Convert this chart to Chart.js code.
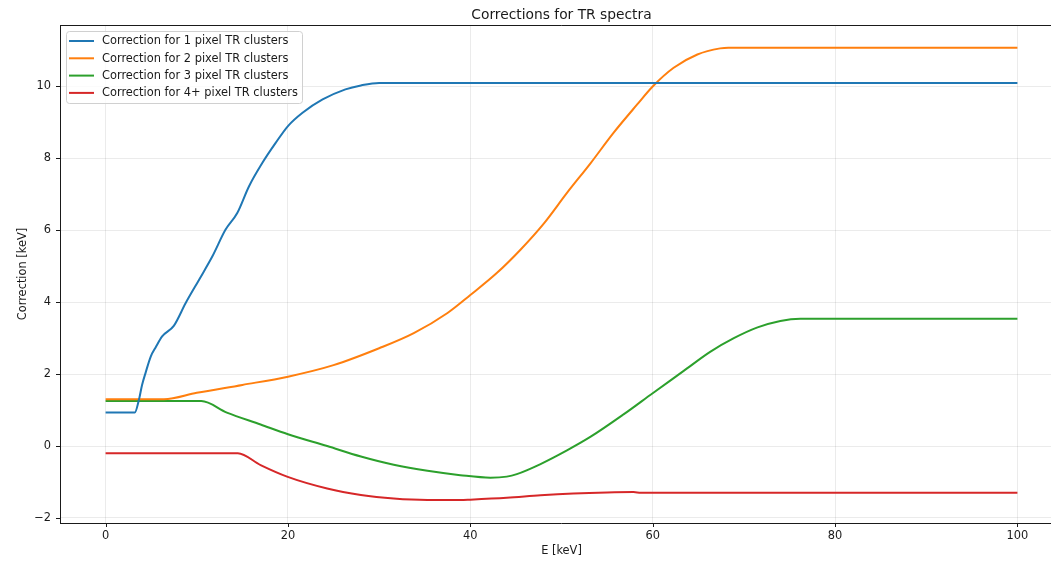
<!DOCTYPE html>
<html>
<head>
<meta charset="utf-8">
<script src="https://cdn.jsdelivr.net/npm/chart.js@4.4.1/dist/chart.umd.min.js"></script>
<style>
  html, body { margin: 0; padding: 0; background: #fff; }
  #wrap { width: 1051px; height: 563px; overflow: hidden; }
  canvas { display: block; }
</style>
</head>
<body>
<div id="wrap"><canvas id="trChart" width="1064" height="563"></canvas></div>
<script>
// E [keV] / correction [keV], one pair of arrays per cluster size
const e1 = [0, 3.2, 3.65, 4.0, 4.4, 4.95, 5.5, 6.2, 7.5, 8.77, 10.24, 11.7, 13.16, 14.44, 15.72, 17.18, 18.65, 20, 21.6, 23.8, 26.3, 28, 30, 100];
const corr1 = [0.93, 0.93, 1.28, 1.7, 2.05, 2.49, 2.75, 3.05, 3.35, 3.97, 4.62, 5.27, 6.02, 6.48, 7.22, 7.87, 8.43, 8.9, 9.27, 9.64, 9.92, 10.03, 10.1, 10.1];

const e2 = [0, 6.4, 10, 15, 20, 25, 30, 33.8, 37.5, 40, 42.9, 45.5, 48.1, 50.6, 53.2, 55.7, 58.3, 60, 62.3, 64.9, 67.4, 68.3, 100];
const corr2 = [1.3, 1.3, 1.48, 1.7, 1.93, 2.25, 2.72, 3.14, 3.7, 4.2, 4.81, 5.46, 6.2, 7.04, 7.87, 8.71, 9.5, 10.0, 10.52, 10.89, 11.06, 11.08, 11.08];

const e3 = [0, 10.5, 13.3, 17, 20, 24.3, 28, 31.6, 35.3, 38.9, 42.2, 44, 45.1, 47.7, 50.6, 53.2, 56.8, 60, 63.4, 66.3, 68.9, 71.5, 74, 76.2, 100];
const corr3 = [1.25, 1.25, 0.93, 0.6, 0.33, 0.0, -0.29, -0.52, -0.69, -0.81, -0.88, -0.85, -0.78, -0.5, -0.12, 0.26, 0.88, 1.47, 2.09, 2.62, 3.0, 3.3, 3.48, 3.54, 3.54];

const e4 = [0, 14.5, 17, 19.9, 24.3, 28, 31.6, 35.3, 38.9, 40, 44, 47.7, 51.3, 55, 57.9, 58.7, 100];
const corr4 = [-0.2, -0.2, -0.53, -0.85, -1.18, -1.36, -1.46, -1.5, -1.5, -1.49, -1.44, -1.37, -1.32, -1.29, -1.28, -1.3, -1.3];

const seriesLabels = [
  'Correction for 1 pixel TR clusters',
  'Correction for 2 pixel TR clusters',
  'Correction for 3 pixel TR clusters',
  'Correction for 4+ pixel TR clusters'
];
const seriesColors = ['#1f77b4', '#ff7f0e', '#2ca02c', '#d62728'];
const chartTitle = 'Corrections for TR spectra';

const xTicks = [0, 20, 40, 60, 80, 100];
const yTicks = [-2, 0, 2, 4, 6, 8, 10];

function toPoints(xs, ys) {
  return xs.map((x, i) => ({ x: x, y: ys[i] }));
}

const allX = [e1, e2, e3, e4];
const allY = [corr1, corr2, corr3, corr4];

const datasets = seriesLabels.map((label, i) => ({
  label: label,
  data: toPoints(allX[i], allY[i]),
  borderColor: seriesColors[i],
  backgroundColor: seriesColors[i],
  borderWidth: 2,
  pointRadius: 0,
  cubicInterpolationMode: 'monotone',
  fill: false
}));

Chart.defaults.font.family = "'DejaVu Sans', sans-serif";
Chart.defaults.color = '#1a1a1a';

// matplotlib-like frame, tick marks, title and legend box
const mplFrame = {
  id: 'mplFrame',
  afterDraw(chart) {
    const ctx = chart.ctx;
    const a = chart.chartArea;
    const xs = chart.scales.x, ys = chart.scales.y;
    ctx.save();
    ctx.strokeStyle = '#1a1a1a';
    ctx.lineWidth = 1;
    ctx.beginPath();
    ctx.moveTo(a.left + 0.5, a.top + 0.5);
    ctx.lineTo(a.right, a.top + 0.5);
    ctx.moveTo(a.left + 0.5, a.top);
    ctx.lineTo(a.left + 0.5, a.bottom);
    ctx.moveTo(a.left, a.bottom + 0.5);
    ctx.lineTo(a.right, a.bottom + 0.5);
    xTicks.forEach(v => {
      const px = Math.round(xs.getPixelForValue(v)) + 0.5;
      ctx.moveTo(px, a.bottom);
      ctx.lineTo(px, a.bottom + 4);
    });
    yTicks.forEach(v => {
      const py = Math.round(ys.getPixelForValue(v)) + 0.5;
      ctx.moveTo(a.left, py);
      ctx.lineTo(a.left - 4, py);
    });
    ctx.stroke();

    // title centred over the axes
    ctx.fillStyle = '#1a1a1a';
    ctx.font = "13.8px 'DejaVu Sans', sans-serif";
    ctx.textAlign = 'center';
    ctx.textBaseline = 'alphabetic';
    ctx.fillText(chartTitle, (a.left + a.right) / 2, 18.5);

    // legend
    const bx = a.left + 6, by = a.top + 6, bw = 236, bh = 72;
    ctx.beginPath();
    ctx.roundRect(bx + 0.5, by + 0.5, bw, bh, 3);
    ctx.fillStyle = 'rgba(255,255,255,0.8)';
    ctx.fill();
    ctx.strokeStyle = '#d0d0d0';
    ctx.stroke();
    ctx.font = "11.4px 'DejaVu Sans', sans-serif";
    ctx.textBaseline = 'middle';
    ctx.textAlign = 'left';
    chart.data.datasets.forEach((ds, i) => {
      const ry = by + 10 + i * 17.3;
      ctx.strokeStyle = ds.borderColor;
      ctx.lineWidth = 2;
      ctx.beginPath();
      ctx.moveTo(bx + 3, ry);
      ctx.lineTo(bx + 28, ry);
      ctx.stroke();
      ctx.fillStyle = '#1a1a1a';
      ctx.fillText(ds.label, bx + 36, ry + 0.5);
    });
    ctx.restore();
  }
};

const ctx = document.getElementById('trChart').getContext('2d');

const trChart = new Chart(ctx, {
  type: 'line',
  data: { datasets: datasets },
  options: {
    responsive: false,
    animation: false,
    devicePixelRatio: 1,
    layout: { padding: { left: 0, right: 1, top: 25, bottom: 0 } },
    plugins: {
      legend: { display: false },
      tooltip: { enabled: false },
      title: { display: false }
    },
    scales: {
      x: {
        type: 'linear',
        min: -5,
        max: 105,
        afterBuildTicks: s => { s.ticks = xTicks.map(v => ({ value: v })); },
        afterFit: s => { s.height = 40; },
        grid: { color: 'rgba(0,0,0,0.1)', lineWidth: 0.8, drawTicks: false },
        border: { display: false },
        ticks: { padding: 6, font: { size: 11.4 }, maxRotation: 0 },
        title: { display: true, text: 'E [keV]', font: { size: 11.4 }, padding: { top: 0, bottom: 5.2 } }
      },
      y: {
        type: 'linear',
        min: -2.14,
        max: 11.71,
        afterBuildTicks: s => { s.ticks = yTicks.map(v => ({ value: v })); },
        afterFit: s => { s.width = 60; },
        grid: { color: 'rgba(0,0,0,0.1)', lineWidth: 0.8, drawTicks: false },
        border: { display: false },
        ticks: {
          padding: 9,
          font: { size: 11.4 },
          callback: v => String(v).replace('-', '\u2212')
        },
        title: { display: true, text: 'Correction [keV]', font: { size: 11.4 }, padding: { top: 16.2, bottom: 0 } }
      }
    }
  },
  plugins: [mplFrame]
});
</script>
</body>
</html>
